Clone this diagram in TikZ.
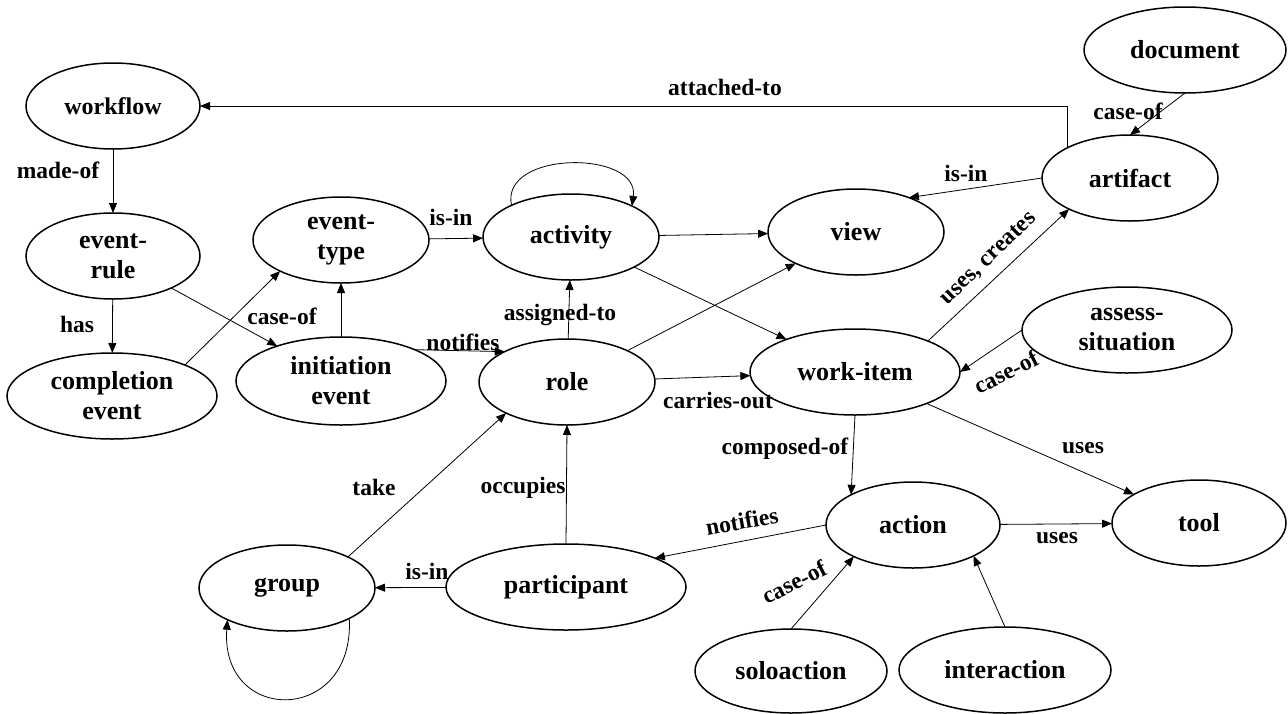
\documentclass[tikz,border=0pt]{standalone}
\usepackage{fontspec}
\setmainfont{Liberation Serif}
\usetikzlibrary{shapes.geometric,arrows.meta}
\begin{document}
\begin{tikzpicture}[x=1pt,y=-1pt,
  ent/.style={ellipse, draw, line width=1.5pt, inner sep=0pt, outer sep=0pt, align=center,
    font=\fontsize{26}{30}\selectfont\bfseries},
  rel/.style={-{Triangle[length=10pt,width=8pt]}, line width=0.8pt},
  lab/.style={font=\fontsize{23.5}{28}\selectfont\bfseries, inner sep=0pt}]
\path[fill=white,use as bounding box] (0,0) rectangle (1288,713);

% entities
\node[ent, minimum width=174pt, minimum height=86pt, font=\fontsize{24}{28}\selectfont\bfseries] (wf) at (113,106) {workflow};
\node[ent, minimum width=174pt, minimum height=86pt] (er) at (113,256) {event-\\rule};
\node[ent, minimum width=210pt, minimum height=86pt] (ce) at (112,396) {completion\\event};
\node[ent, minimum width=176pt, minimum height=86pt] (et) at (341,240) {event-\\type};
\node[ent, minimum width=210pt, minimum height=88pt] (ie) at (341,381) {initiation\\event};
\node[ent, minimum width=176pt, minimum height=86pt] (act) at (571,237) {activity};
\node[ent, minimum width=176pt, minimum height=86pt] (role) at (567,382) {role};
\node[ent, minimum width=176pt, minimum height=86pt] (view) at (856,232) {view};
\node[ent, minimum width=210pt, minimum height=86pt] (wi) at (855,372) {work-item};
\node[ent, minimum width=176pt, minimum height=86pt] (art) at (1130,178) {artifact};
\node[ent, minimum width=202pt, minimum height=86pt] (doc) at (1185,50) {document};
\node[ent, minimum width=210pt, minimum height=86pt] (as) at (1127,330) {assess-\\situation};
\node[ent, minimum width=174pt, minimum height=86pt] (tool) at (1199,523) {tool};
\node[ent, minimum width=174pt, minimum height=86pt] (action) at (913,525) {action};
\node[ent, minimum width=192pt, minimum height=84pt] (solo) at (791,671) {soloaction};
\node[ent, minimum width=212pt, minimum height=86pt] (inter) at (1005,670) {interaction};
\node[ent, minimum width=176pt, minimum height=86pt] (group) at (287,588) {group};
\node[ent, minimum width=240pt, minimum height=86pt] (part) at (566,587) {participant};

% relations
\draw[rel] (art.154) |- (wf.east);
\draw[rel] (wf) -- (er);
\draw[rel] (er) -- (ce);
\draw[rel] (er) -- (ie);
\draw[rel] (ce.23) -- (et.207);
\draw[rel] (ie) -- (et);
\draw[rel] (et) -- (act);
\draw[rel] (act.152) .. controls (500,150) and (640,150) .. (act.27);
\draw[rel] (act) -- (view);
\draw[rel] (act) -- (wi);
\draw[rel] (role) -- (act);
\draw[rel] (ie.23) -- (role.154);
\draw[rel] (role) -- (view);
\draw[rel] (role) -- (wi);
\draw[rel] (art.west) -- (view.33);
\draw[rel] (wi.23) -- (art.207);
\draw[rel] (doc.south) -- (art.north);
\draw[rel] (as.west) -- (wi.east);
\draw[rel] (wi.south) -- (action.154);
\draw[rel] (wi) -- (tool);
\draw[rel] (action) -- (tool);
\draw[rel] (action.west) -- (part.18);
\draw[rel] (part) -- (group);
\draw[rel] (part.north) -- (role.south);
\draw[rel] (group.27) -- (role.207);
\draw[rel] (group.334) .. controls (355,725) and (220,725) .. (group.208);
\draw[rel] (solo.north) -- (action.208);
\draw[rel] (inter.north) -- (action.333);

% labels
\node[lab] (l1) at (725,87) {attached-to};
\node[lab] (l2) at (58,170) {made-of};
\node[lab] (l3) at (77,324) {has};
\node[lab] (l4) at (282,316) {case-of};
\node[lab] (l5) at (451,217) {is-in};
\node[lab] (l6) at (463,342) {notifies};
\node[lab] (l7) at (560,315) {assigned-to};
\node[lab] (l8) at (718,400) {carries-out};
\node[lab] (l9) at (966,173) {is-in};
\node[lab, rotate=44] (l10) at (989,259) {uses, creates};
\node[lab] (l11) at (1128,111) {case-of};
\node[lab, rotate=27] (l12) at (1006,372) {case-of};
\node[lab] (l13) at (785,449) {composed-of};
\node[lab] (l14) at (1083,448) {uses};
\node[lab] (l15) at (1057,538) {uses};
\node[lab, rotate=10] (l16) at (742,521) {notifies};
\node[lab] (l17) at (427,571) {is-in};
\node[lab] (l18) at (523,488) {occupies};
\node[lab] (l19) at (374,487) {take};
\node[lab, rotate=27] (l20) at (794,582) {case-of};
\end{tikzpicture}
\end{document}
